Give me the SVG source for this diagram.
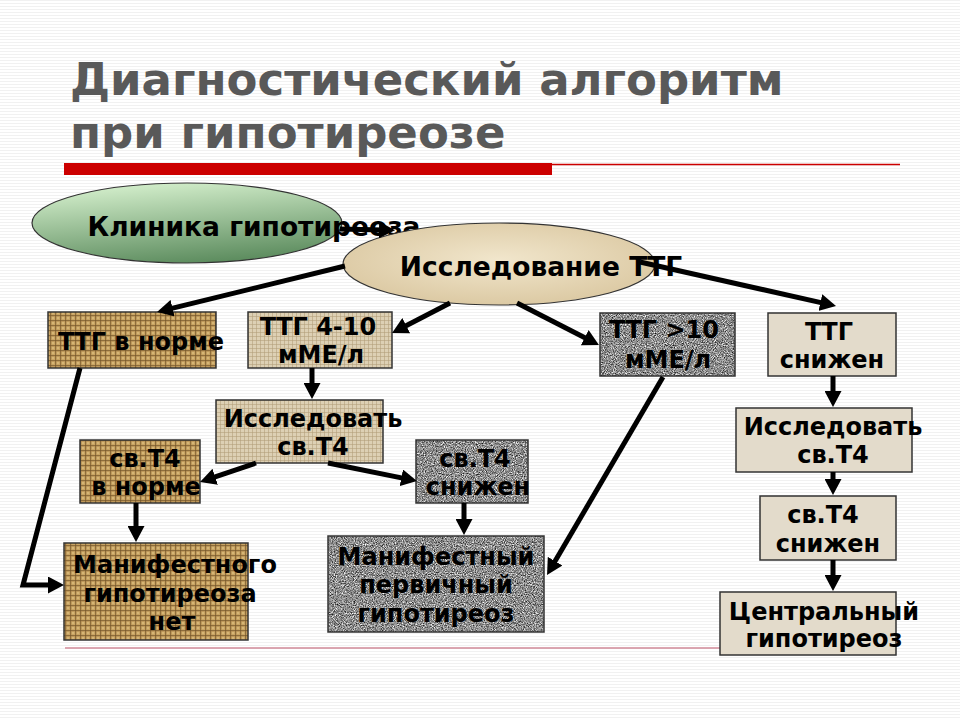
<svg xmlns="http://www.w3.org/2000/svg" width="960" height="720" viewBox="0 0 960 720">
<style>
  .title { font-family: "DejaVu Sans", Verdana, sans-serif; font-weight: bold; font-size: 45px; fill: #595959; }
  .t { font-family: "DejaVu Sans", Verdana, sans-serif; font-weight: bold; font-size: 24px; fill: #000; text-anchor: middle; }
  .te { font-family: "DejaVu Sans", Verdana, sans-serif; font-weight: bold; font-size: 26.5px; fill: #000; text-anchor: middle; }
  .box { stroke: #333; stroke-width: 1.5; }
  .burlap { fill: url(#burlap); }
  .weave { fill: url(#weave); }
  .paper { fill: #e3dbcb; }
  .conn { fill: none; stroke: #000; stroke-width: 5; marker-end: url(#arrow); }
</style>
<defs>
  <pattern id="stripes" width="4" height="3" patternUnits="userSpaceOnUse">
    <rect width="4" height="3" fill="#ffffff"/>
    <rect width="4" height="1" fill="#f1f1f1"/>
  </pattern>
  <pattern id="burlap" width="5" height="5" patternUnits="userSpaceOnUse">
    <rect width="5" height="5" fill="#c9a463"/>
    <rect width="5" height="1.2" fill="#75552a" opacity="0.7"/>
    <rect width="1.2" height="5" fill="#75552a" opacity="0.7"/>
    <rect x="2" y="2.5" width="2" height="1" fill="#ecd69a" opacity="0.7"/>
  </pattern>
  <pattern id="weave" width="4" height="4" patternUnits="userSpaceOnUse">
    <rect width="4" height="4" fill="#ddd0b4"/>
    <rect width="4" height="1" fill="#b09c78" opacity="0.55"/>
    <rect width="1" height="4" fill="#b09c78" opacity="0.55"/>
  </pattern>
  <filter id="granite" x="0" y="0" width="1" height="1" color-interpolation-filters="sRGB">
    <feTurbulence type="fractalNoise" baseFrequency="0.9" numOctaves="2" seed="7" result="n"/>
    <feColorMatrix in="n" type="matrix" values="1.4 0 0 0 -0.15  1.4 0 0 0 -0.15  1.4 0 0 0 -0.15  0 0 0 0 1" result="g"/>
    <feComposite in="g" in2="SourceGraphic" operator="in"/>
  </filter>
  <linearGradient id="green" x1="0.3" y1="0" x2="0.6" y2="1">
    <stop offset="0" stop-color="#d4efcc"/>
    <stop offset="1" stop-color="#5b8b5d"/>
  </linearGradient>
  <radialGradient id="tan" cx="0.5" cy="0.45" r="0.6">
    <stop offset="0" stop-color="#f1e6cc"/>
    <stop offset="1" stop-color="#dac7a0"/>
  </radialGradient>
  <marker id="arrow" markerUnits="userSpaceOnUse" markerWidth="16" markerHeight="17" refX="4" refY="8.5" orient="auto">
    <path d="M0,0 L16,8.5 L0,17 z" fill="#000"/>
  </marker>
</defs>

<rect width="960" height="720" fill="url(#stripes)"/>

<g id="title">
  <text class="title" x="70" y="95">Диагностический алгоритм</text>
  <text class="title" x="70" y="148">при гипотиреозе</text>
  <rect x="64" y="163" width="488" height="12" fill="#cc0000"/>
  <line x1="552" y1="164.5" x2="900" y2="164.5" stroke="#cc0000" stroke-width="1.5"/>
  <line x1="65" y1="648" x2="720" y2="648" stroke="#d08a98" stroke-width="1.5"/>
</g>

<g id="clinic">
  <ellipse cx="187" cy="223" rx="155" ry="40" fill="url(#green)" stroke="#333" stroke-width="1.2"/>
  <text class="te" x="254" y="236">Клиника гипотиреоза</text>
</g>

<g id="tsh-test">
  <ellipse cx="499" cy="264" rx="156" ry="41" fill="url(#tan)" stroke="#333" stroke-width="1.2"/>
  <text class="te" x="541" y="276">Исследование ТТГ</text>
</g>

<g id="tsh-normal">
  <rect class="box burlap" x="48" y="312" width="168" height="56"/>
  <text class="t" x="141" y="350">ТТГ в норме</text>
</g>

<g id="tsh-4-10">
  <rect class="box weave" x="248" y="312" width="144" height="56"/>
  <text class="t" x="318" y="335">ТТГ 4-10</text>
  <text class="t" x="321" y="363">мМЕ/л</text>
</g>

<g id="tsh-gt10">
  <rect x="600" y="313" width="135" height="63" fill="#888" filter="url(#granite)"/>
  <rect class="box" x="600" y="313" width="135" height="63" fill="none"/>
  <text class="t" x="664" y="338">ТТГ &gt;10</text>
  <text class="t" x="668" y="368">мМЕ/л</text>
</g>

<g id="tsh-low">
  <rect class="box paper" x="768" y="313" width="128" height="63"/>
  <text class="t" x="829" y="340">ТТГ</text>
  <text class="t" x="832" y="368">снижен</text>
</g>

<g id="test-t4-left">
  <rect class="box weave" x="216" y="400" width="167" height="63"/>
  <text class="t" x="313" y="427">Исследовать</text>
  <text class="t" x="313" y="455">св.Т4</text>
</g>

<g id="t4-normal">
  <rect class="box burlap" x="80" y="440" width="120" height="63"/>
  <text class="t" x="145" y="467">св.Т4</text>
  <text class="t" x="146" y="495">в норме</text>
</g>

<g id="t4-low-mid">
  <rect x="416" y="440" width="112" height="63" fill="#888" filter="url(#granite)"/>
  <rect class="box" x="416" y="440" width="112" height="63" fill="none"/>
  <text class="t" x="475" y="467">св.Т4</text>
  <text class="t" x="478" y="495">снижен</text>
</g>

<g id="no-manifest">
  <rect class="box burlap" x="64" y="543" width="184" height="97"/>
  <text class="t" x="175" y="573">Манифестного</text>
  <text class="t" x="170" y="602">гипотиреоза</text>
  <text class="t" x="172" y="630">нет</text>
</g>

<g id="manifest-primary">
  <rect x="328" y="536" width="216" height="96" fill="#888" filter="url(#granite)"/>
  <rect class="box" x="328" y="536" width="216" height="96" fill="none"/>
  <text class="t" x="436" y="565">Манифестный</text>
  <text class="t" x="436" y="593">первичный</text>
  <text class="t" x="436" y="622">гипотиреоз</text>
</g>

<g id="test-t4-right">
  <rect class="box paper" x="736" y="408" width="176" height="64"/>
  <text class="t" x="833" y="435">Исследовать</text>
  <text class="t" x="833" y="463">св.Т4</text>
</g>

<g id="t4-low-right">
  <rect class="box paper" x="760" y="496" width="136" height="64"/>
  <text class="t" x="823" y="523">св.Т4</text>
  <text class="t" x="828" y="552">снижен</text>
</g>

<g id="central">
  <rect class="box paper" x="720" y="592" width="176" height="63"/>
  <text class="t" x="824" y="620">Центральный</text>
  <text class="t" x="824" y="647">гипотиреоз</text>
</g>

<g id="connectors">
  <line class="conn" x1="340" y1="229" x2="383" y2="230"/>
  <line class="conn" x1="345" y1="266" x2="168.7" y2="309.1"/>
  <line class="conn" x1="450" y1="303" x2="402.7" y2="327.5"/>
  <line class="conn" x1="517" y1="303" x2="588.3" y2="339.5"/>
  <line class="conn" x1="640" y1="262" x2="824.3" y2="303.4"/>
  <line class="conn" x1="312" y1="368" x2="312" y2="387"/>
  <line class="conn" x1="256" y1="463" x2="211.4" y2="478.1"/>
  <line class="conn" x1="328" y1="463" x2="405.2" y2="478.6"/>
  <line class="conn" x1="136" y1="503" x2="136" y2="530"/>
  <polyline class="conn" points="80,368 23,585 52,585"/>
  <line class="conn" x1="464" y1="503" x2="464" y2="523"/>
  <line class="conn" x1="663" y1="377" x2="553.1" y2="564.6"/>
  <line class="conn" x1="833" y1="376" x2="833" y2="395"/>
  <line class="conn" x1="833" y1="472" x2="833" y2="483"/>
  <line class="conn" x1="833" y1="560" x2="833" y2="579"/>
</g>
</svg>
